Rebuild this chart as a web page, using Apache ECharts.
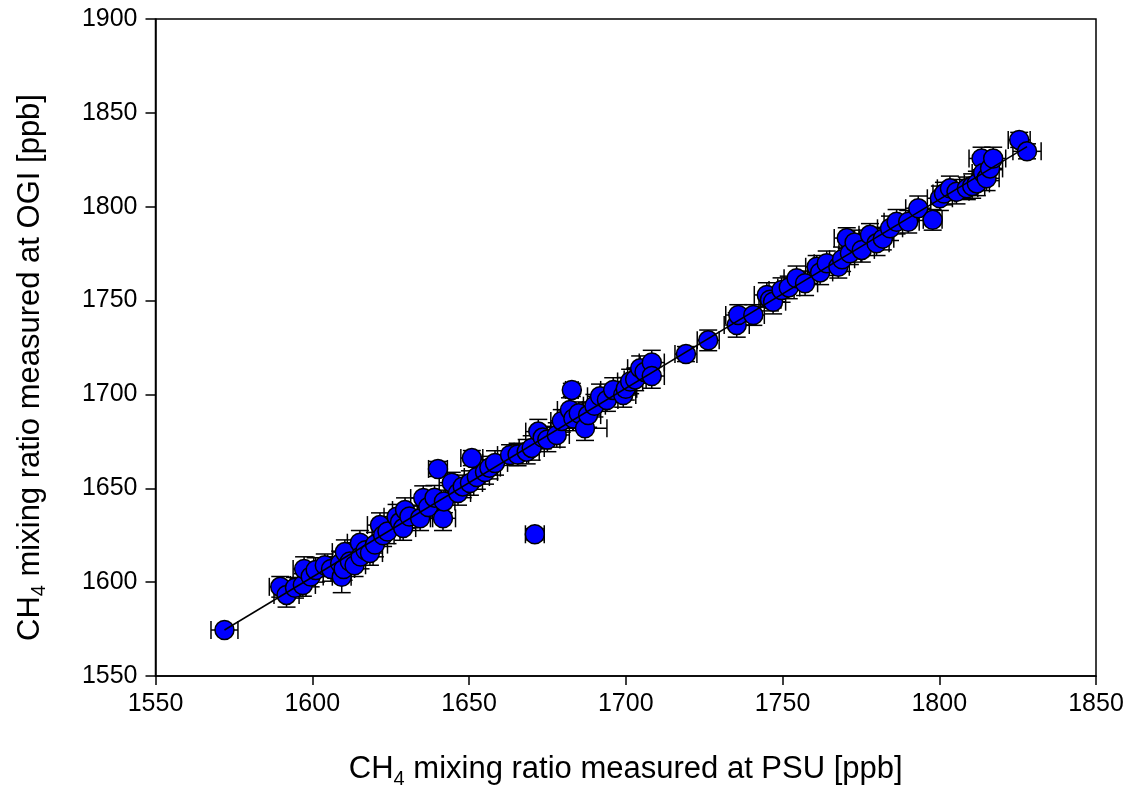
<!DOCTYPE html>
<html>
<head>
<meta charset="utf-8">
<script src="https://cdn.jsdelivr.net/npm/echarts@6/dist/echarts.min.js"></script>
<style>
html,body{margin:0;padding:0;background:#fff;}
#c{width:1136px;height:789px;}
</style>
</head>
<body>
<div id="c"></div>
<script>
// CH4 measured at PSU (x) and at OGI (y), ppb
const psu = [1572,1589.8,1591.8,1594.5,1597,1597.4,1599.5,1601.1,1604,1606,
  1608.9,1609.4,1610.4,1610,1612,1613.5,1615.2,1615.4,1617,1618.4,
  1620,1621.6,1622.6,1624,1626.9,1628,1629,1629.6,1631,1634.4,
  1635.4,1637,1639,1640.1,1641.7,1642,1644.5,1646.5,1648,1650.3,
  1650.9,1652.5,1655.1,1656.5,1658.3,1663.1,1665.5,1668.4,1670,1671,
  1672.1,1673.5,1675,1678,1679.6,1682.2,1682.8,1683.3,1685,1687,
  1688,1690,1691.8,1694,1696,1699.2,1700,1701.4,1703,1704.6,
  1706,1708.3,1708.3,1719.2,1726.3,1735.4,1735.9,1740.7,1745,1746,
  1747,1749.7,1752,1754.5,1757.2,1760.9,1762,1764.1,1767.8,1769,
  1770.5,1771.5,1773,1775.3,1777.9,1780,1782,1784.3,1786.4,1790.1,
  1793.3,1797.9,1800.2,1801.5,1803.4,1805.5,1808.8,1810.5,1812,1813.5,
  1814,1815.1,1816.2,1817.2,1825.5,1828];
const ogi = [1574.5,1597.5,1593.2,1597,1598.5,1607,1603,1606.5,1609,1607,
  1610,1602.9,1616,1607,1611,1609,1621,1613.6,1617,1615.5,
  1620,1630.4,1625,1627,1634.9,1632,1628.8,1638.4,1635,1634,
  1644.8,1640,1645,1660.3,1634,1643,1653,1647.5,1651,1652.8,
  1666.1,1656,1658.7,1661,1663.5,1667.7,1668,1669.5,1671.5,1625.5,
  1680.2,1677,1676,1678.4,1685.9,1691.7,1702.4,1687.2,1690,1682,
  1689,1694,1699,1697,1702.4,1699.7,1703,1706.9,1708,1714,
  1712,1717,1709.8,1721.5,1728.8,1737,1742.3,1742.3,1753,1750.5,
  1749.4,1755.6,1757,1761.9,1759.2,1768,1765,1769.9,1768,1772,
  1783.3,1775.2,1781,1777,1785,1780.5,1783,1788.5,1792,1792,
  1799.2,1793,1804.5,1807,1809.8,1808,1809.8,1811,1812.4,1825.7,
  1818,1815.1,1820.4,1825.7,1835.6,1829.5];
// error bar half-widths, ppb
const psuErr = [4.3,3.5,4,3.5,4,3.5,4,4,3.5,4,
  4,3,4,3.5,4,3.5,4,4,3.5,4,
  4,4,3.5,4,4,3.5,4,4,3.5,4,
  4,3.5,4,3,4,3.5,4,4,3.5,4,
  3.5,4,4,3.5,4,4,3.5,4,4,3,
  4,3.5,4,4,3.5,4,2,4,3.5,7,
  4,3.5,4,3.5,4,4,3.5,4,3.5,4,
  3.5,4,4,3.5,3.5,4,4,3.5,4,3.5,
  4,4,3.5,4,4,3.5,4,4,3.5,4,
  4,3.5,4,4,3.5,4,3.5,4,4,3.5,
  4,3,4,3.5,4,4,3.5,4,4,4,
  3.5,4,4,4,3.5,4.5];
const ogiErr = [1.5,5.5,6.5,5.5,6,6.5,5.5,6.5,6,6.5,
  6.5,8.5,6.5,6,6.5,6,6.5,6.5,6,6.5,
  6.5,6.5,6,6.5,6.5,6,6.5,6.5,6,6.5,
  6.5,6,6.5,4,6.5,6,5.5,6.5,6,6.5,
  4,6.5,6.5,6,6.5,5.5,6,6.5,6.5,3,
  6.5,6,6.5,6.5,6,6.5,3.5,6.5,6,6.5,
  6.5,6,6.5,6,6.5,6.5,6,6.5,6,6.5,
  6,6.5,6.5,4,5.5,6.5,5.5,5.5,6.5,6,
  6.5,6.5,6,6.5,6.5,6,6.5,6.5,6,6.5,
  5.5,6,6.5,6.5,6,6.5,6,6.5,6.5,6,
  6.5,5.5,6.5,6,6.5,6.5,6,6.5,6.5,6,
  6,6.5,6.5,6,4,4];
// regression line end points
const fitX = [1572, 1828];
const fitY = [1574.5, 1832];
const xTicks = [1550, 1850, 50];
const yTicks = [1550, 1900, 50];

const chart = echarts.init(document.getElementById('c'));
const pts = psu.map((v, i) => [v, ogi[i], psuErr[i], ogiErr[i]]);
const CAP = 9;
const FONT = 'Liberation Sans, Arial, sans-serif';
const lineStyle = {stroke: '#000', lineWidth: 1.5};
const plain = v => String(v);

chart.setOption({
  animation: false,
  backgroundColor: '#fff',
  grid: {left: 155.5, top: 19, right: 40, bottom: 113, containLabel: false, outerBoundsMode: 'none',
    show: true, borderColor: '#000', borderWidth: 1.5, backgroundColor: 'transparent'},
  xAxis: {
    type: 'value', min: xTicks[0], max: xTicks[1], interval: xTicks[2],
    splitLine: {show: false},
    axisLine: {lineStyle: {color: '#000', width: 1.5}},
    axisTick: {show: true, inside: false, length: 9, lineStyle: {color: '#000', width: 1.5}},
    axisLabel: {color: '#000', fontSize: 25, fontFamily: FONT, margin: 16, formatter: plain},
    name: '{a|CH}{s|4}{a| mixing ratio measured at PSU [ppb]}',
    nameLocation: 'middle', nameGap: 74,
    nameTextStyle: {color: '#000', fontFamily: FONT, rich: {
      a: {fontSize: 31, fontFamily: FONT, color: '#000'},
      s: {fontSize: 20, fontFamily: FONT, color: '#000', padding: [19, 0, 0, 0]}
    }}
  },
  yAxis: {
    type: 'value', min: yTicks[0], max: yTicks[1], interval: yTicks[2],
    splitLine: {show: false},
    axisLine: {lineStyle: {color: '#000', width: 1.5}},
    axisTick: {show: true, inside: false, length: 10, lineStyle: {color: '#000', width: 1.5}},
    axisLabel: {color: '#000', fontSize: 25, fontFamily: FONT, margin: 18, formatter: plain},
    name: '{a|CH}{s|4}{a| mixing ratio measured at OGI [ppb]}',
    nameLocation: 'middle', nameGap: 106, nameRotate: 90,
    nameTextStyle: {color: '#000', fontFamily: FONT, padding: [0, 40, 0, 0], rich: {
      a: {fontSize: 31, fontFamily: FONT, color: '#000'},
      s: {fontSize: 20, fontFamily: FONT, color: '#000', padding: [19, 0, 0, 0]}
    }}
  },
  series: [
    {
      type: 'custom', z: 2, silent: true,
      data: pts,
      renderItem: function (params, api) {
        const x = api.value(0), y = api.value(1), ex = api.value(2), ey = api.value(3);
        const l = api.coord([x - ex, y]), r = api.coord([x + ex, y]);
        const t = api.coord([x, y + ey]), b = api.coord([x, y - ey]);
        const mk = (x1, y1, x2, y2) => ({type: 'line', shape: {x1, y1, x2, y2}, style: lineStyle});
        return {type: 'group', children: [
          mk(l[0], l[1], r[0], r[1]),
          mk(l[0], l[1] - CAP, l[0], l[1] + CAP),
          mk(r[0], r[1] - CAP, r[0], r[1] + CAP),
          mk(t[0], t[1], b[0], b[1]),
          mk(t[0] - CAP, t[1], t[0] + CAP, t[1]),
          mk(b[0] - CAP, b[1], b[0] + CAP, b[1])
        ]};
      }
    },
    {
      type: 'scatter', z: 3, silent: true,
      data: pts.map(p => [p[0], p[1]]),
      symbol: 'circle', symbolSize: 19,
      itemStyle: {color: '#0000ff', borderColor: '#000', borderWidth: 1.5, opacity: 1}
    },
    {
      type: 'line', z: 4, silent: true, symbol: 'none',
      data: fitX.map((v, i) => [v, fitY[i]]),
      lineStyle: {color: '#000', width: 1.5}
    }
  ]
});
</script>
</body>
</html>
